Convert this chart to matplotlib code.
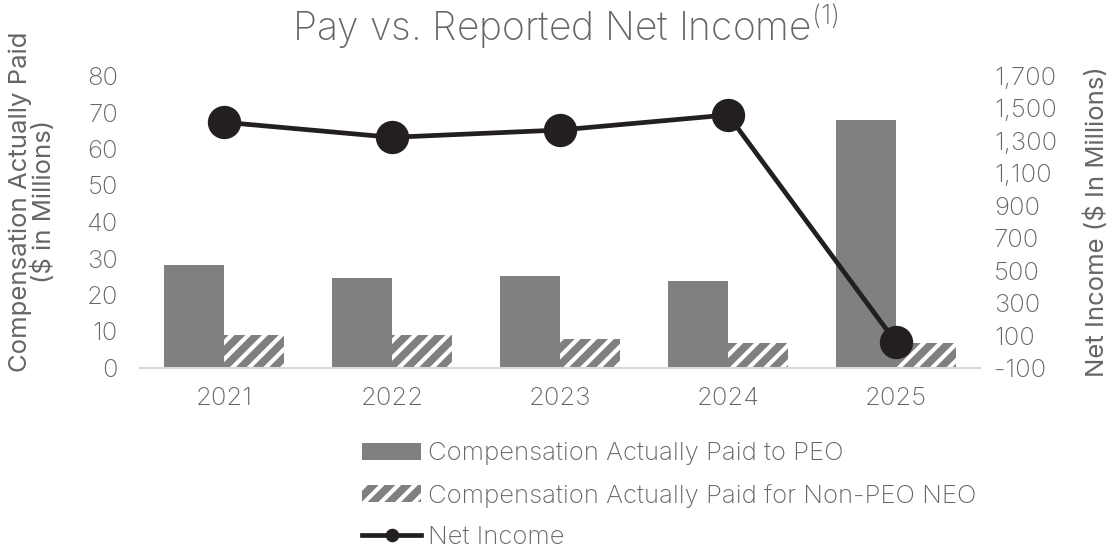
import numpy as np
import matplotlib
matplotlib.use("Agg")
import matplotlib.pyplot as plt

years = ["2021", "2022", "2023", "2024", "2025"]
peo_cap = [28.2, 24.7, 25.2, 23.8, 67.9]        # $M, left axis
non_peo_cap = [9.0, 9.0, 7.9, 6.8, 6.9]         # $M, left axis
net_income = [1415, 1322, 1367, 1460, 58]       # $M, right axis

left_ticks = list(range(0, 81, 10))
right_ticks = list(range(-100, 1701, 200))

GRAY_TEXT = "#666666"
BAR_GRAY = "#808080"
LINE_BLACK = "#231f20"
FS = 18.5

plt.rcParams["font.family"] = ["Inter", "DejaVu Sans"]
plt.rcParams["font.weight"] = "light"
plt.rcParams["mathtext.fontset"] = "custom"
plt.rcParams["mathtext.rm"] = "Inter:light"
plt.rcParams["mathtext.it"] = "Inter:light"
plt.rcParams["hatch.linewidth"] = 3.0

fig = plt.figure(figsize=(11.09, 5.54), dpi=100)
ax = fig.add_axes([140 / 1109, 1 - 368 / 554, 840 / 1109, 292 / 554])
ax2 = ax.twinx()

x = np.arange(len(years))
w = 0.357
b1 = ax.bar(x - w / 2, peo_cap, w, color=BAR_GRAY, linewidth=0,
            label="Compensation Actually Paid to PEO")
b2 = ax.bar(x + w / 2, non_peo_cap, w, facecolor=BAR_GRAY, edgecolor="white",
            hatch="//", linewidth=0,
            label="Compensation Actually Paid for Non-PEO NEO")
ln, = ax2.plot(x, net_income, color=LINE_BLACK, linewidth=3.4, marker="o",
               markersize=23, label="Net Income")

ax.set_xlim(-0.5, 4.5)
ax.set_ylim(0, 80)
ax2.set_ylim(-100, 1700)
ax.set_yticks(left_ticks)
ax2.set_yticks(right_ticks)
ax2.set_yticklabels([f"{v:,}" for v in right_ticks])
ax.set_xticks(x)
ax.set_xticklabels(years)

for a in (ax, ax2):
    for s in a.spines.values():
        s.set_visible(False)
    a.tick_params(length=0, labelsize=FS, colors=GRAY_TEXT)
ax.spines["bottom"].set_visible(True)
ax.spines["bottom"].set_color("#d9d9d9")
ax.spines["bottom"].set_linewidth(1.5)
ax.tick_params(axis="y", pad=16)
ax.tick_params(axis="x", pad=14)
ax2.tick_params(axis="y", pad=10)

ax.set_ylabel("Compensation Actually Paid\n($ in Millions)", fontsize=FS,
              color=GRAY_TEXT, linespacing=0.95)
ax.yaxis.set_label_coords(-0.1, 0.57)
ax2.set_ylabel("Net Income ($ In Millions)", fontsize=FS, color=GRAY_TEXT,
               labelpad=20)

fig.text(0.51, 0.952, r"Pay vs. Reported Net Income$^{(1)}$", ha="center",
         va="center", fontsize=28, color=GRAY_TEXT)

fig.legend(handles=[b1, b2, ln], loc="upper left",
           bbox_to_anchor=(352 / 1109, 1 - 432 / 554), frameon=False,
           fontsize=FS, labelcolor=GRAY_TEXT, handlelength=2.3,
           handleheight=0.65, labelspacing=0.72, handletextpad=0.25,
           borderaxespad=0, markerscale=0.38)

fig.savefig("out.png", dpi=100)
